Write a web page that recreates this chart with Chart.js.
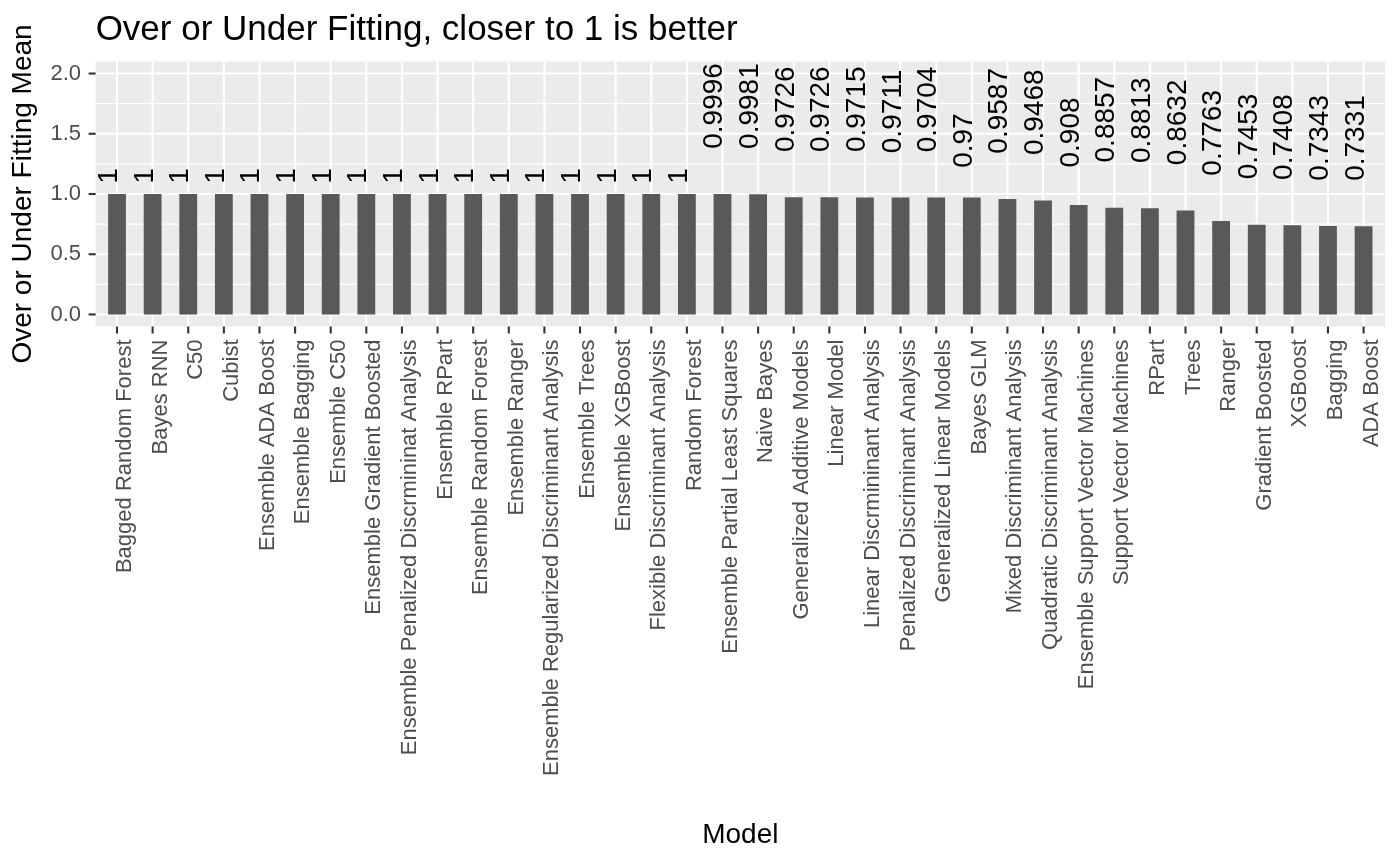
<!DOCTYPE html>
<html>
<head>
<meta charset="utf-8">
<script src="https://cdn.jsdelivr.net/npm/chart.js@4.4.1/dist/chart.umd.min.js"></script>
<style>
  html, body { margin: 0; padding: 0; background: #fff; }
</style>
</head>
<body>
<canvas id="chart" width="1400" height="866"></canvas>
<script>
const models = [
    'Bagged Random Forest', 'Bayes RNN', 'C50', 'Cubist', 'Ensemble ADA Boost',
    'Ensemble Bagging', 'Ensemble C50', 'Ensemble Gradient Boosted',
    'Ensemble Penalized Discrmininat Analysis', 'Ensemble RPart', 'Ensemble Random Forest',
    'Ensemble Ranger', 'Ensemble Regularized Discriminant Analysis', 'Ensemble Trees',
    'Ensemble XGBoost', 'Flexible Discriminant Analysis', 'Random Forest',
    'Ensemble Partial Least Squares', 'Naive Bayes', 'Generalized Additive Models',
    'Linear Model', 'Linear Discrmininant Analysis', 'Penalized Discriminant Analysis',
    'Generalized Linear Models', 'Bayes GLM', 'Mixed Discriminant Analysis',
    'Quadratic Discriminant Analysis', 'Ensemble Support Vector Machines',
    'Support Vector Machines', 'RPart', 'Trees', 'Ranger', 'Gradient Boosted',
    'XGBoost', 'Bagging', 'ADA Boost'
];
const fitMeans = [
    1, 1, 1, 1, 1,
    1, 1, 1,
    1, 1, 1,
    1, 1, 1,
    1, 1, 1,
    0.9996, 0.9981, 0.9726,
    0.9726, 0.9715, 0.9711,
    0.9704, 0.97, 0.9587,
    0.9468, 0.908,
    0.8857, 0.8813, 0.8632, 0.7763, 0.7453,
    0.7408, 0.7343, 0.7331
];
const yMajorTicks = [0, 0.5, 1, 1.5, 2];
const yMinorTicks = [0.25, 0.75, 1.25, 1.75];

const chartTitle = 'Over or Under Fitting, closer to 1 is better';
const xTitle = 'Model';
const yTitle = 'Over or Under Fitting Mean';

const FONT = "'Liberation Sans', Arial, Helvetica, sans-serif";
const EXPAND = 0.1; // ggplot pads a discrete axis by 0.6 step, chart.js offset only gives 0.5

function panelEdges(chart) {
    const x = chart.scales.x;
    const step = x.getPixelForTick(1) - x.getPixelForTick(0);
    return { left: chart.chartArea.left - EXPAND * step, right: chart.chartArea.right + EXPAND * step };
}

function line(ctx, x1, y1, x2, y2) {
    ctx.beginPath();
    ctx.moveTo(x1, y1);
    ctx.lineTo(x2, y2);
    ctx.stroke();
}

// grey panel, white grid and tick marks (theme_grey look)
const panelPlugin = {
    id: 'panel',
    beforeDatasetsDraw(chart) {
        const { ctx, chartArea: a, scales: { x, y } } = chart;
        const { left, right } = panelEdges(chart);
        ctx.save();
        ctx.fillStyle = '#EBEBEB';
        ctx.fillRect(left, a.top, right - left, a.bottom - a.top);

        ctx.strokeStyle = '#FFFFFF';
        ctx.lineWidth = 1.1;
        yMinorTicks.forEach(v => {
            const py = y.getPixelForValue(v);
            line(ctx, left, py, right, py);
        });
        ctx.lineWidth = 2.1;
        yMajorTicks.forEach(v => {
            const py = y.getPixelForValue(v);
            line(ctx, left, py, right, py);
        });
        models.forEach((m, i) => {
            const px = x.getPixelForTick(i);
            line(ctx, px, a.top, px, a.bottom);
        });

        // tick marks
        ctx.strokeStyle = '#333333';
        ctx.lineWidth = 2.1;
        yMajorTicks.forEach(v => {
            const py = y.getPixelForValue(v);
            line(ctx, left - 7, py, left, py);
        });
        models.forEach((m, i) => {
            const px = x.getPixelForTick(i);
            line(ctx, px, a.bottom, px, a.bottom + 7);
        });
        ctx.restore();
    }
};

// rotated value labels above each bar
const valueLabels = {
    id: 'valueLabels',
    afterDatasetsDraw(chart) {
        const ctx = chart.ctx;
        const meta = chart.getDatasetMeta(0);
        ctx.save();
        ctx.font = '28px ' + FONT;
        ctx.fillStyle = '#000000';
        ctx.textAlign = 'left';
        ctx.textBaseline = 'alphabetic';
        meta.data.forEach((bar, i) => {
            const txt = String(fitMeans[i]);
            const w = ctx.measureText(txt).width;
            ctx.save();
            ctx.translate(bar.x, bar.y - (w * 0.5 + 2.5));
            ctx.rotate(-Math.PI / 2);
            ctx.fillText(txt, 0, 0);
            ctx.restore();
        });
        ctx.restore();
    }
};

const plotTitle = {
    id: 'plotTitle',
    afterDraw(chart) {
        const ctx = chart.ctx;
        const { left } = panelEdges(chart);
        ctx.save();
        ctx.font = '35px ' + FONT;
        ctx.fillStyle = '#000000';
        ctx.textAlign = 'left';
        ctx.textBaseline = 'alphabetic';
        ctx.fillText(chartTitle, left, 40);
        ctx.restore();
    }
};

const ctx = document.getElementById('chart').getContext('2d');
window.fitChart = new Chart(ctx, {
    type: 'bar',
    data: {
        labels: models,
        datasets: [{
            data: fitMeans,
            backgroundColor: '#595959',
            barPercentage: 0.5,
            categoryPercentage: 1
        }]
    },
    options: {
        responsive: false,
        devicePixelRatio: 1,
        animation: false,
        layout: { padding: { top: 61.5, right: 18.6, bottom: 0, left: 0 } },
        plugins: {
            legend: { display: false },
            tooltip: { enabled: false }
        },
        scales: {
            x: {
                grid: { display: false, drawTicks: true, tickLength: 7 },
                border: { display: false },
                ticks: {
                    autoSkip: false,
                    minRotation: 90,
                    maxRotation: 90,
                    padding: 6,
                    labelOffset: 8,
                    color: '#4D4D4D',
                    font: { family: FONT, size: 22 }
                },
                title: {
                    display: true,
                    text: xTitle,
                    color: '#000000',
                    font: { family: FONT, size: 28 },
                    padding: { top: 0, bottom: 13.9 }
                },
                afterFit(scale) { scale.height = 866 - 326.5; }
            },
            y: {
                min: -0.1,
                max: 2.1,
                afterBuildTicks(scale) {
                    scale.ticks = yMajorTicks.map(v => ({ value: v }));
                },
                grid: { display: false, drawTicks: true, tickLength: 10 },
                border: { display: false },
                ticks: {
                    padding: 8.2,
                    color: '#4D4D4D',
                    font: { family: FONT, size: 22 },
                    callback: v => Number(v).toFixed(1)
                },
                title: {
                    display: true,
                    text: yTitle,
                    color: '#000000',
                    font: { family: FONT, size: 28 },
                    padding: { top: 6.5, bottom: 0 }
                },
                afterFit(scale) { scale.width = 99.2; }
            }
        }
    },
    plugins: [panelPlugin, valueLabels, plotTitle]
});
</script>
</body>
</html>
